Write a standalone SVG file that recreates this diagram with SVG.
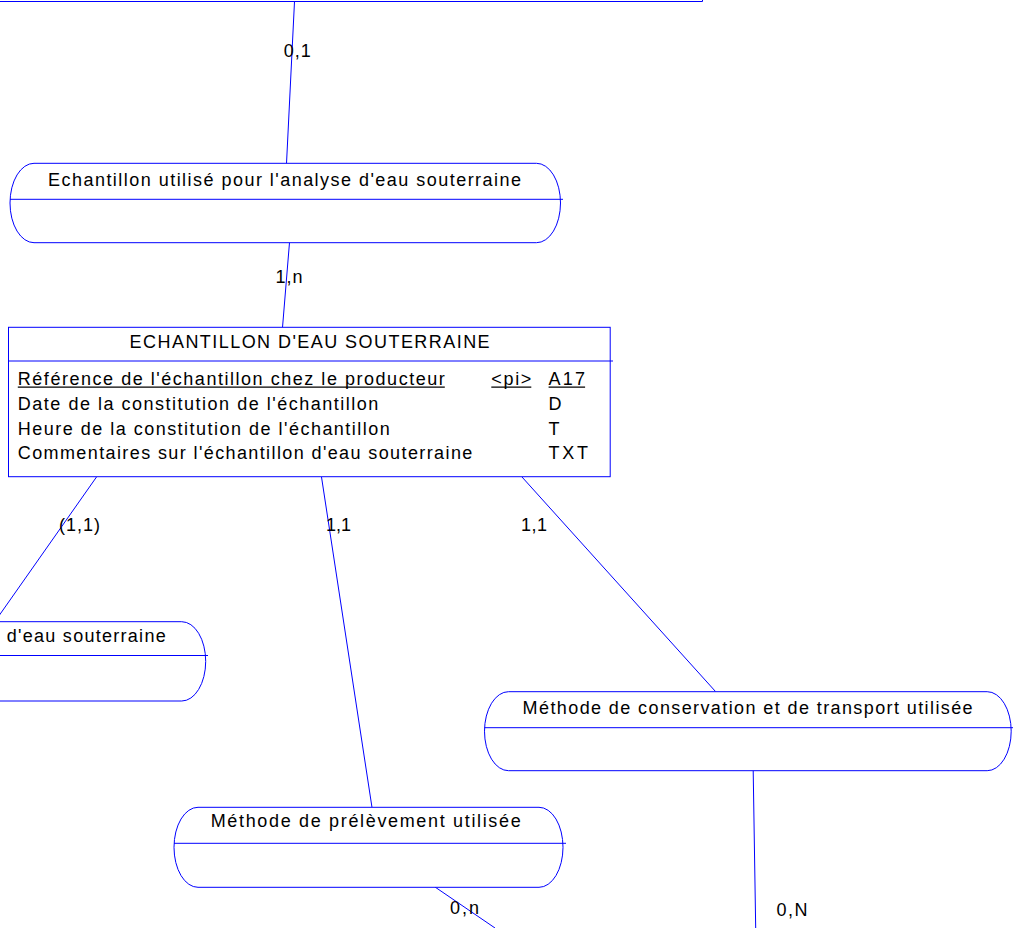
<svg xmlns="http://www.w3.org/2000/svg" width="1013" height="928" viewBox="0 0 1013 928">
<style>
  .shape { fill: #ffffff; stroke: #0000ff; stroke-width: 1; }
  .sep { stroke: #0000ff; stroke-width: 1; fill: none; }
  .link { stroke: #0000ff; stroke-width: 1; fill: none; }
  .ul { stroke: #000000; stroke-width: 1.2; }
  text { font-family: "Liberation Sans", Arial, sans-serif; font-size: 18px; fill: #000000; }
</style>
<rect x="0" y="0" width="1013" height="928" fill="#ffffff"/>

<g id="connectors">
  <line class="link" x1="294.5" y1="1.5" x2="286.5" y2="163.5"/>
  <line class="link" x1="289.5" y1="242.5" x2="282.5" y2="327.5"/>
  <line class="link" x1="96.5" y1="477" x2="-0.5" y2="615"/>
  <line class="link" x1="321.5" y1="477" x2="372" y2="807.5"/>
  <line class="link" x1="522" y1="477" x2="715.5" y2="691.5"/>
  <line class="link" x1="753.2" y1="770.5" x2="755.7" y2="928"/>
  <line class="link" x1="435" y1="887" x2="495" y2="928"/>
  <text x="283.7" y="57" textLength="27" lengthAdjust="spacing">0,1</text>
  <text x="275.6" y="283" textLength="27" lengthAdjust="spacing">1,n</text>
  <text x="59" y="530.7" textLength="41" lengthAdjust="spacing">(1,1)</text>
  <text x="326" y="530.7" textLength="25" lengthAdjust="spacing">1,1</text>
  <text x="521" y="530.7" textLength="26" lengthAdjust="spacing">1,1</text>
  <text x="450" y="914" textLength="29" lengthAdjust="spacing">0,n</text>
  <text x="776.4" y="916" textLength="31" lengthAdjust="spacing">0,N</text>
</g>

<g id="entity-top">
  <path class="sep" d="M-1,1.5 H702.5 V-1"/>
</g>

<g id="assoc-echantillon-utilise">
  <rect class="shape" x="10" y="163.3" width="550.5" height="79.4" rx="24" ry="39.7"/>
  <line class="sep" x1="10" y1="199.3" x2="563" y2="199.3"/>
  <text x="48" y="185.8" textLength="473" lengthAdjust="spacing">Echantillon utilisé pour l'analyse d'eau souterraine</text>
</g>

<g id="entity-echantillon">
  <rect class="shape" x="8.5" y="327.3" width="601.7" height="149.4"/>
  <line class="sep" x1="8.5" y1="361" x2="613" y2="361"/>
  <text x="129.6" y="347.5" textLength="360" lengthAdjust="spacing">ECHANTILLON D'EAU SOUTERRAINE</text>
  <text x="17.8" y="384.5" textLength="427" lengthAdjust="spacing">Référence de l'échantillon chez le producteur</text>
  <line class="ul" x1="17.8" y1="387.2" x2="444.8" y2="387.2"/>
  <text x="491.3" y="384.5" textLength="40" lengthAdjust="spacing">&lt;pi&gt;</text>
  <line class="ul" x1="491.3" y1="387.2" x2="531.3" y2="387.2"/>
  <text x="548.6" y="384.5" textLength="36.5" lengthAdjust="spacing">A17</text>
  <line class="ul" x1="548.6" y1="387.2" x2="585.1" y2="387.2"/>
  <text x="17.8" y="410" textLength="360.5" lengthAdjust="spacing">Date de la constitution de l'échantillon</text>
  <text x="548.6" y="410">D</text>
  <text x="17.8" y="434.5" textLength="372" lengthAdjust="spacing">Heure de la constitution de l'échantillon</text>
  <text x="548.6" y="434.5">T</text>
  <text x="17.8" y="459" textLength="454.5" lengthAdjust="spacing">Commentaires sur l'échantillon d'eau souterraine</text>
  <text x="548.6" y="459" textLength="39.5" lengthAdjust="spacing">TXT</text>
</g>

<g id="assoc-left">
  <rect class="shape" x="-340" y="621.7" width="545.7" height="79.3" rx="24" ry="39.6"/>
  <line class="sep" x1="-340" y1="655.5" x2="208" y2="655.5"/>
  <text x="6.7" y="642" textLength="159" lengthAdjust="spacing">d'eau souterraine</text>
</g>

<g id="assoc-conservation">
  <rect class="shape" x="484.5" y="691.7" width="526.7" height="79" rx="24" ry="39.5"/>
  <line class="sep" x1="484.5" y1="727.7" x2="1013" y2="727.7"/>
  <text x="522.6" y="713.8" textLength="450" lengthAdjust="spacing">Méthode de conservation et de transport utilisée</text>
</g>

<g id="assoc-prelevement">
  <rect class="shape" x="174" y="807.3" width="389" height="80" rx="24" ry="40"/>
  <line class="sep" x1="174" y1="843.3" x2="566" y2="843.3"/>
  <text x="210.7" y="827.3" textLength="310" lengthAdjust="spacing">Méthode de prélèvement utilisée</text>
</g>
</svg>
